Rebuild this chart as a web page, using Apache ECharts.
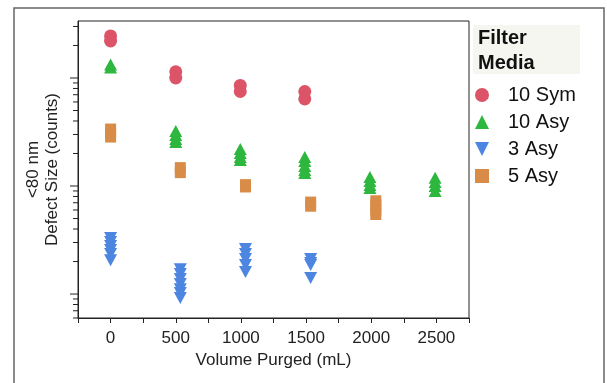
<!DOCTYPE html>
<html>
<head>
<meta charset="utf-8">
<script src="https://cdn.jsdelivr.net/npm/echarts@6/dist/echarts.min.js"></script>
<style>
    html, body {margin: 0; padding: 0; background: #ffffff;}
    #defect-chart {width: 607px; height: 383px;}
</style>
</head>
<body>
<div id="defect-chart"></div>
<script>
// 数据: [Volume Purged (mL), Defect count]
const sym10 = [[0, 2450], [0, 2200], [500, 1140], [500, 1000], [995, 853], [995, 750], [1490, 750], [1490, 640]];
const asy10 = [
    [0, 1334], [0, 1250],
    [500, 323], [500, 297], [500, 272], [500, 256],
    [995, 220], [995, 202], [995, 186], [995, 174],
    [1490, 186], [1490, 170], [1490, 153], [1490, 141], [1490, 132],
    [1990, 121], [1990, 111], [1990, 102], [1990, 96],
    [2490, 119], [2490, 109], [2490, 100], [2490, 90]
];
const asy3 = [
    [0, 33], [0, 30.3], [0, 27.8], [0, 25.6], [0, 23.5], [0, 20.6],
    [535, 17], [535, 15.3], [535, 13.8], [535, 12.4], [535, 11.1], [535, 10.2], [535, 9.2],
    [1035, 26.1], [1035, 23.5], [1035, 21.1], [1035, 18.6], [1035, 16],
    [1535, 21.1], [1535, 19.4], [1535, 18.6], [1535, 14.1]
];
const asy5 = [
    [0, 337], [0, 310], [0, 284],
    [535, 148], [535, 133],
    [1035, 103], [1035, 98],
    [1535, 71], [1535, 65],
    [2035, 73], [2035, 67], [2035, 60], [2035, 54.5]
];
const seriesNames = ['10 Sym', '10 Asy', '3 Asy', '5 Asy'];

// 坐标轴
const xMin = -250;
const xMax = 2750;
const xStep = 250;
const xLabelStep = 500;
const yMin = 6;
const yMax = 3370;
const yMajorTicks = [10, 100, 1000];
const yMinorTicks = [6, 7, 8, 9, 20, 30, 40, 50, 60, 70, 80, 90, 200, 300, 400, 500, 600, 700, 800, 900, 2000, 3000];

const font = 'Liberation Sans, Arial, Helvetica, sans-serif';
const color = ['#dc5468', '#2eb73f', '#4d86e0', '#d98c48'];
const downTriangle = 'path://M0,0 L10,0 L5,10 Z';

// y 轴刻度 (对数轴主/次刻度)
function tickSeries(values, len) {
    return {
        type: 'custom',
        silent: true,
        clip: false,
        z: 5,
        data: values.map((v) => [xMin, v]),
        renderItem: (params, api) => {
            let p = api.coord([api.value(0), api.value(1)]);
            return {
                type: 'line',
                shape: {x1: p[0] - len, y1: p[1], x2: p[0], y2: p[1]},
                style: {stroke: '#222', lineWidth: 1}
            };
        }
    };
}

function scatter(name, data, symbol, size, c) {
    return {
        name: name,
        type: 'scatter',
        data: data,
        symbol: symbol,
        symbolSize: size,
        itemStyle: {color: c, opacity: 1},
        z: 3
    };
}

let option = {
    animation: false,
    backgroundColor: '#ffffff',
    textStyle: {fontFamily: font},
    grid: {
        left: 78,
        top: 21,
        right: 138,
        bottom: 65,
        show: true,
        borderColor: '#222',
        borderWidth: 1,
        containLabel: false,
        outerBoundsMode: 'none'
    },
    legend: {
        data: seriesNames,
        orient: 'vertical',
        left: 470,
        top: 80,
        itemWidth: 14,
        itemHeight: 14,
        itemGap: 7,
        selectedMode: false,
        textStyle: {
            fontFamily: font,
            fontSize: 20,
            lineHeight: 20,
            color: '#111',
            padding: [0, 0, 0, 14]
        }
    },
    graphic: [
        {
            type: 'rect',
            silent: true,
            shape: {x: 14, y: 8, width: 590, height: 400},
            style: {fill: 'none', stroke: '#666', lineWidth: 1.5}
        },
        {
            type: 'rect',
            silent: true,
            shape: {x: 473, y: 25, width: 107, height: 49},
            style: {fill: '#f6f6f1'}
        },
        {
            type: 'text',
            silent: true,
            left: 478,
            top: 26,
            style: {
                text: 'Filter\nMedia',
                fontFamily: font,
                fontSize: 20,
                fontWeight: 'bold',
                lineHeight: 25,
                fill: '#111'
            }
        }
    ],
    xAxis: {
        type: 'value',
        min: xMin,
        max: xMax,
        interval: xStep,
        name: 'Volume Purged (mL)',
        nameLocation: 'middle',
        nameGap: 33,
        nameTextStyle: {fontFamily: font, fontSize: 17, color: '#222'},
        axisLine: {onZero: false, lineStyle: {color: '#222', width: 1}},
        axisTick: {show: true, length: 5, lineStyle: {color: '#222'}},
        axisLabel: {
            fontFamily: font,
            fontSize: 17,
            color: '#222',
            margin: 12,
            formatter: (v) => (v % xLabelStep === 0 && v >= 0 && v <= 2500) ? String(v) : ''
        },
        splitLine: {show: false}
    },
    yAxis: {
        type: 'log',
        logBase: 10,
        min: yMin,
        max: yMax,
        name: '<80 nm\nDefect Size (counts)',
        nameLocation: 'middle',
        nameGap: 16,
        nameTextStyle: {fontFamily: font, fontSize: 17, lineHeight: 19, color: '#222'},
        axisLine: {show: true, onZero: false, lineStyle: {color: '#222', width: 1}},
        axisTick: {show: false},
        axisLabel: {show: false},
        splitLine: {show: false},
        minorTick: {show: false}
    },
    series: [
        scatter(seriesNames[0], sym10, 'circle', 13, color[0]),
        scatter(seriesNames[1], asy10, 'triangle', [13, 12], color[1]),
        scatter(seriesNames[2], asy3, downTriangle, [13, 12], color[2]),
        scatter(seriesNames[3], asy5, 'rect', 11, color[3]),
        tickSeries(yMajorTicks, 8),
        tickSeries(yMinorTicks, 5)
    ]
};

let chart = echarts.init(document.getElementById('defect-chart'));
chart.setOption(option);
</script>
</body>
</html>
